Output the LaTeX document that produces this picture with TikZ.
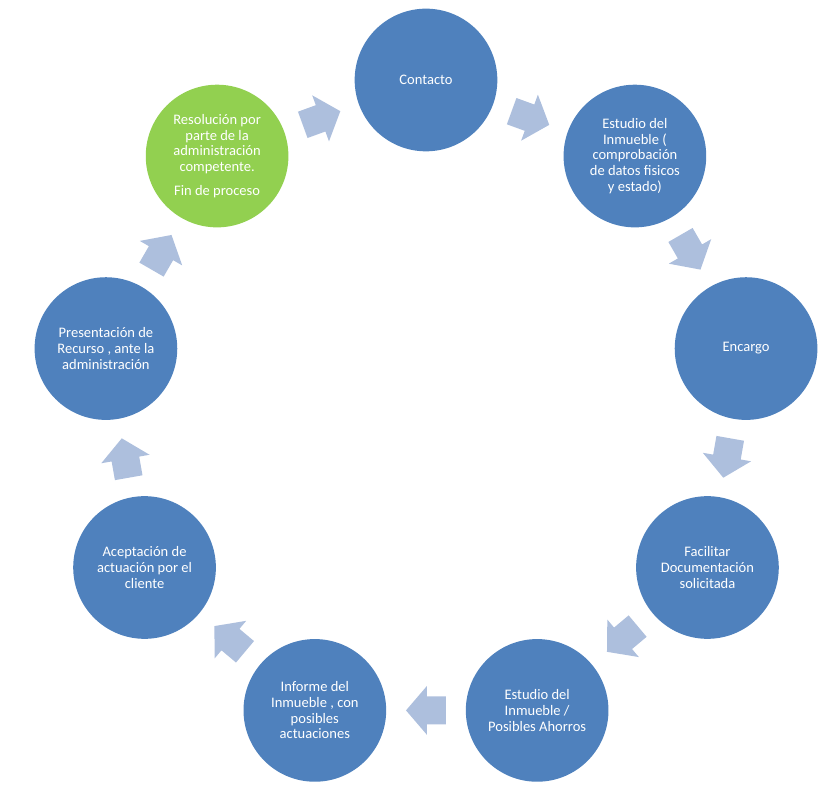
\documentclass[tikz,border=0pt]{standalone}
\usepackage{fontspec}
\setmainfont{Carlito}
\usetikzlibrary{calc}
\definecolor{circleblue}{HTML}{4F81BD}
\definecolor{circlegreen}{HTML}{92D050}
\definecolor{arrowblue}{RGB}{173,191,221}
\begin{document}
\begin{tikzpicture}[x=0.75pt, y=0.75pt,
        every node/.style={align=center, text=white, font=\fontsize{10.9}{11.8}\selectfont},
        stage/.style={circle, fill=circleblue, minimum size=107pt, inner sep=0pt},
        blockarrow/.pic={\fill[arrowblue] (-20,-14) -- (-1,-14) -- (-1,-24.5) -- (20,0) -- (-1,24.5) -- (-1,14) -- (-20,14) -- cycle;}]
            \useasboundingbox (-426,-401) rectangle (399,405);

            \node[stage] (contacto) at (90:325) {Contacto};
            \node[stage] (estudio) at (50:325) {Estudio del\\ Inmueble (\\ comprobación\\ de datos fisicos\\ y estado)};
            \node[stage] (encargo) at (10:325) {Encargo};
            \node[stage] (facilitar) at (-30:325) {Facilitar\\ Documentación\\ solicitada};
            \node[stage] (ahorros) at (-70:325) {Estudio del\\ Inmueble /\\ Posibles Ahorros};
            \node[stage] (informe) at (-110:325) {Informe del\\ Inmueble , con\\ posibles\\ actuaciones};
            \node[stage] (aceptacion) at (-150:325) {Aceptación de\\ actuación por el\\ cliente};
            \node[stage] (recurso) at (170:325) {Presentación de\\ Recurso , ante la\\ administración};
            \node[stage, fill=circlegreen] (resolucion) at (130:325) {Resolución por\\ parte de la\\ administración\\ competente.\\[6pt] Fin de proceso};

            \pic[rotate=-20] at ($(contacto)!0.5!(estudio)$) {blockarrow};
            \pic[rotate=-60] at ($(estudio)!0.5!(encargo)$) {blockarrow};
            \pic[rotate=-100] at ($(encargo)!0.5!(facilitar)$) {blockarrow};
            \pic[rotate=-140] at ($(facilitar)!0.5!(ahorros)$) {blockarrow};
            \pic[rotate=180] at ($(ahorros)!0.5!(informe)$) {blockarrow};
            \pic[rotate=140] at ($(informe)!0.5!(aceptacion)$) {blockarrow};
            \pic[rotate=100] at ($(aceptacion)!0.5!(recurso)$) {blockarrow};
            \pic[rotate=60] at ($(recurso)!0.5!(resolucion)$) {blockarrow};
            \pic[rotate=20] at ($(resolucion)!0.5!(contacto)$) {blockarrow};
        \end{tikzpicture}
\end{document}
